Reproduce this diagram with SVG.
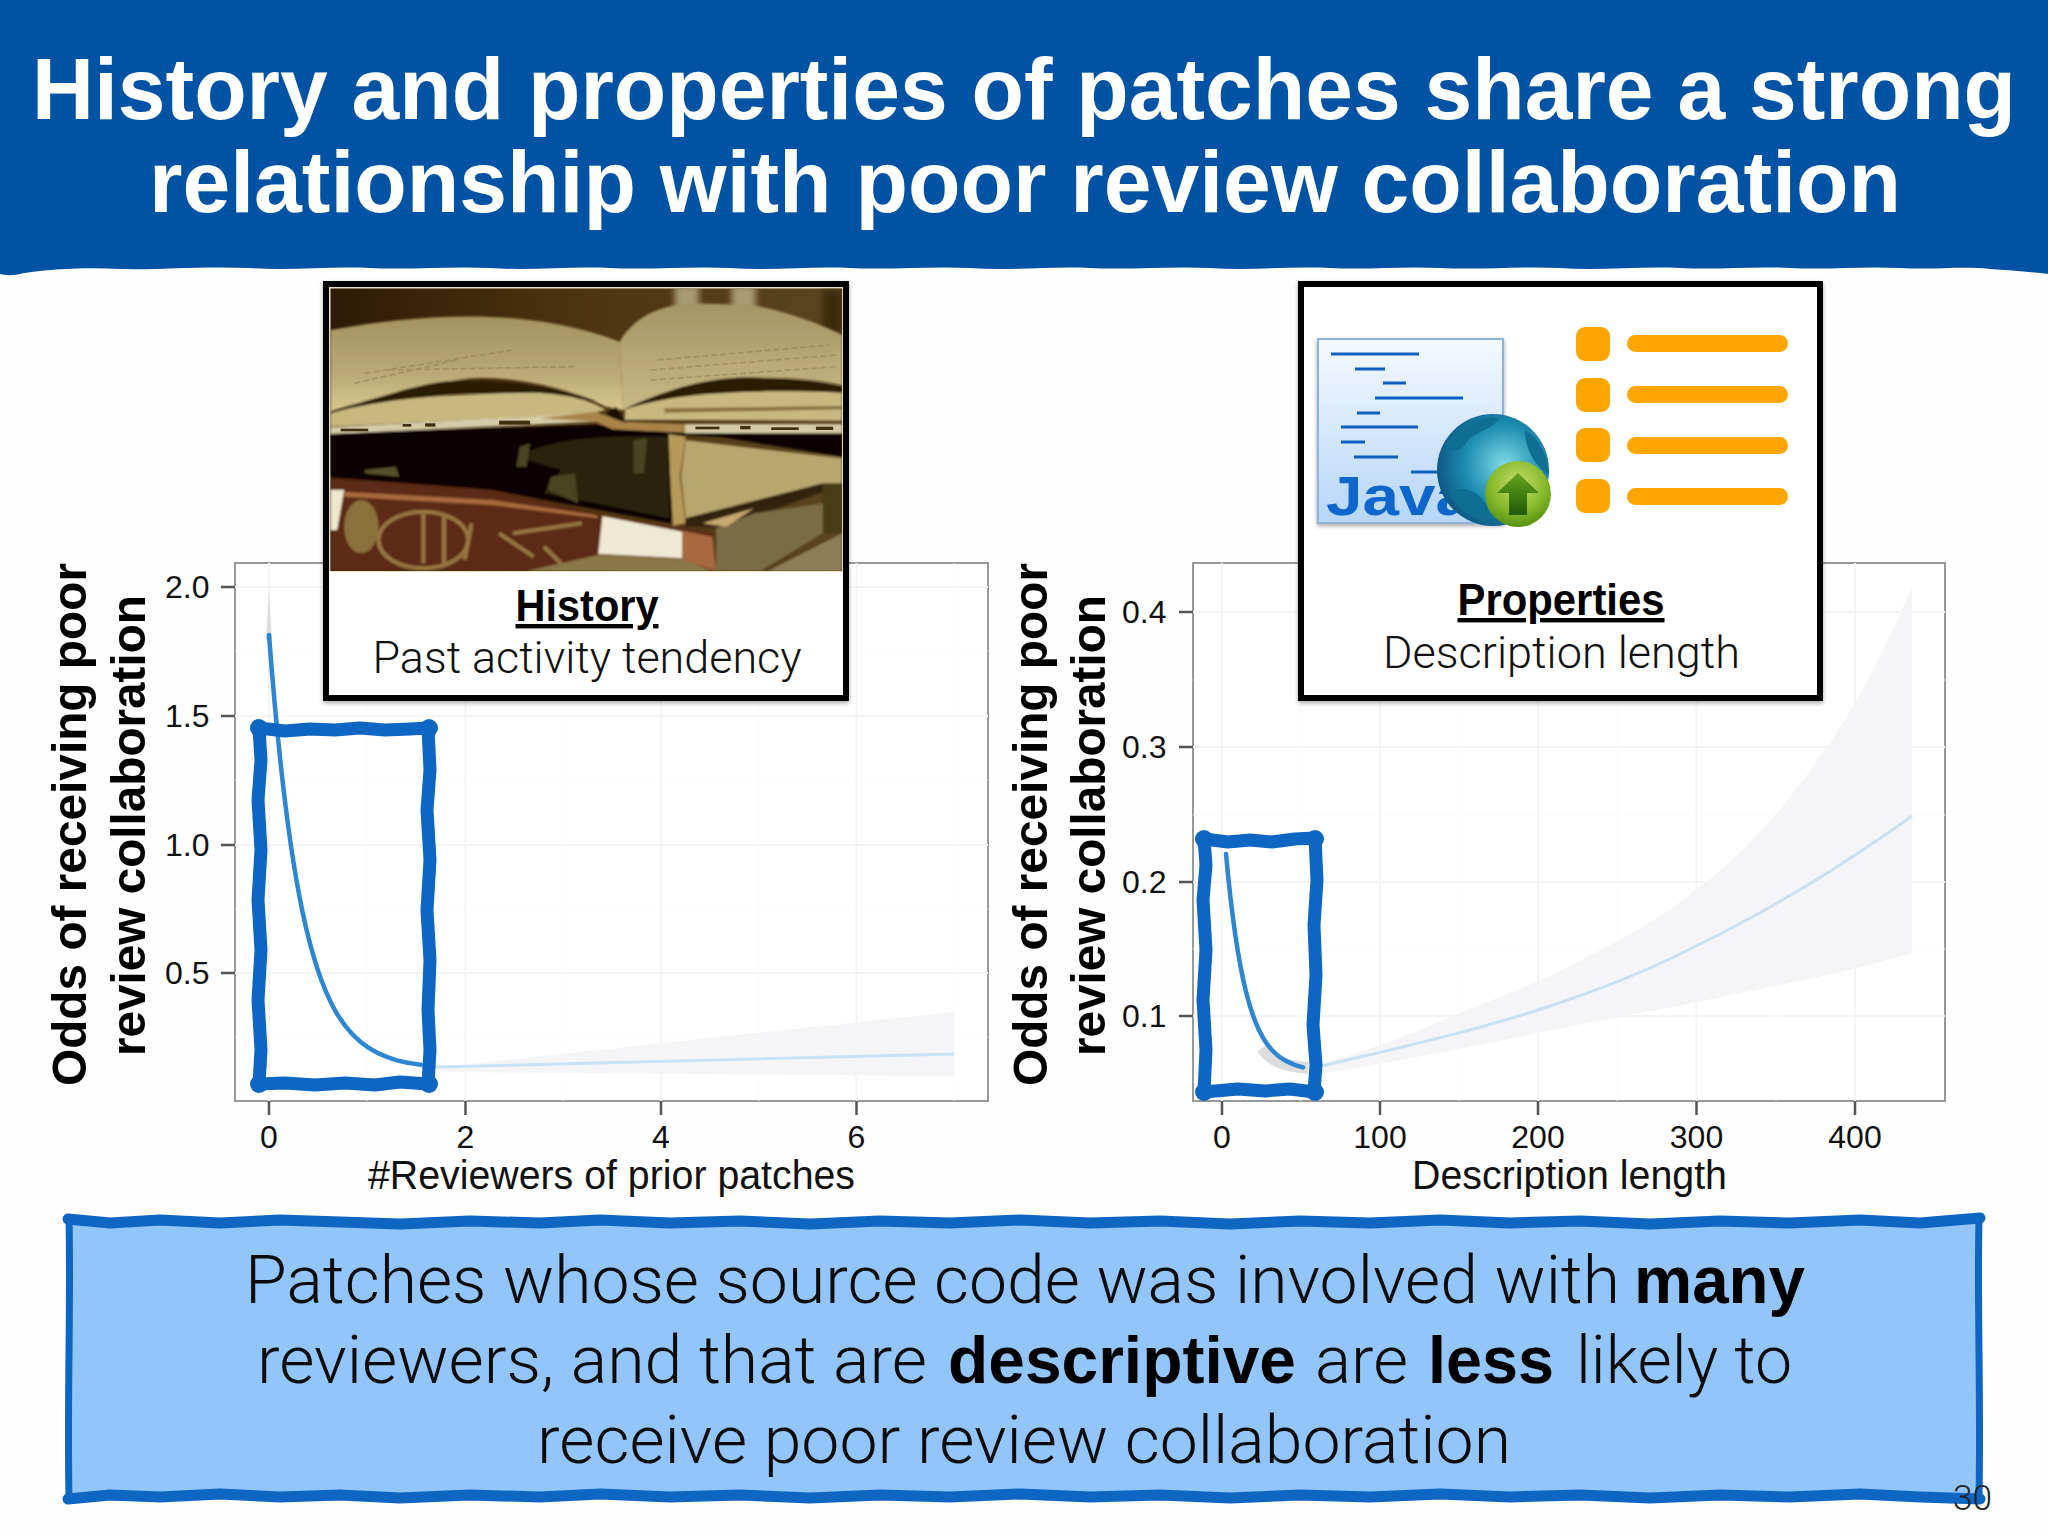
<svg xmlns="http://www.w3.org/2000/svg" width="2048" height="1536" viewBox="0 0 2048 1536">
<defs>
<style>
.sans{font-family:"Liberation Sans",Arial,sans-serif}
.light{font-family:Roboto,"Liberation Sans",sans-serif;font-weight:300}
.tick{font-family:"Liberation Sans",Arial,sans-serif;font-size:32px;fill:#111}
.axis{font-family:"Liberation Sans",Arial,sans-serif;font-size:40px;fill:#111}
.ylab{font-family:"Liberation Sans",Arial,sans-serif;font-size:49px;font-weight:700;fill:#000}
.panel{fill:#fff;stroke:#999;stroke-width:2}
.maj{stroke:#f4f4f4;stroke-width:2}
.min{stroke:#fbfbfb;stroke-width:1}
.tk{stroke:#555;stroke-width:2.5}
.band{fill:#f5f4f6}
.dark{fill:none;stroke:#2c86d2;stroke-width:4.500;stroke-linejoin:round;stroke-linecap:round}
.pale{fill:none;stroke:#c9e1f3;stroke-width:3}
.mark{fill:none;stroke:#0d66c2;stroke-width:13;stroke-linejoin:round;stroke-linecap:round}
.dot{fill:#0d66c2}
.frame{fill:#fff;stroke:#000;stroke-width:6;filter:url(#sh)}
.bul{fill:#ffa500}
.code{stroke:#0d5fc0;stroke-width:3}
.ftitle{font-family:"Liberation Sans",Arial,sans-serif;font-size:44px;font-weight:700;text-anchor:middle;text-decoration:underline;fill:#000}
.fsub{font-size:44px;text-anchor:middle;fill:#111}
.msg{font-size:67px;fill:#0b0b0b}
.msgb{font-family:"Liberation Sans",Arial,sans-serif;font-size:67px;font-weight:700;fill:#000}
.edge{fill:none;stroke:#0d66c2;stroke-width:11;stroke-linejoin:round;stroke-linecap:round}
</style>
<filter id="sh" x="-5%" y="-5%" width="110%" height="110%"><feDropShadow dx="0" dy="2" stdDeviation="2" flood-color="#000" flood-opacity=".35"/></filter>
<filter id="soft" x="-5%" y="-5%" width="110%" height="110%"><feGaussianBlur stdDeviation="3.500"/></filter>
<filter id="soft2" x="-20%" y="-20%" width="140%" height="140%"><feGaussianBlur stdDeviation="9"/></filter>
<clipPath id="photo"><rect x="30" y="55" width="1486" height="848"/></clipPath>
<linearGradient id="pgL" x1="0" y1="0" x2="0" y2="1"><stop offset="0" stop-color="#a3935f"/><stop offset=".6" stop-color="#b9a975"/><stop offset="1" stop-color="#d8c88f"/></linearGradient>
<linearGradient id="pgR" x1="0" y1="0" x2="0" y2="1"><stop offset="0" stop-color="#a59565"/><stop offset="1" stop-color="#c9b985"/></linearGradient>
<linearGradient id="bg" x1="0" y1="0" x2="1" y2="0"><stop offset="0" stop-color="#2e1a05"/><stop offset=".5" stop-color="#4e3410"/><stop offset="1" stop-color="#5a4420"/></linearGradient>
<linearGradient id="doc" x1="0" y1="0" x2="0" y2="1"><stop offset="0" stop-color="#f4f9ff"/><stop offset="1" stop-color="#b6d6f8"/></linearGradient>
<radialGradient id="globe" cx=".6" cy=".45" r=".65"><stop offset="0" stop-color="#7fd8e6"/><stop offset=".55" stop-color="#1c8cb0"/><stop offset="1" stop-color="#0a4f7c"/></radialGradient>
<radialGradient id="grn" cx=".5" cy=".35" r=".7"><stop offset="0" stop-color="#c8e070"/><stop offset=".6" stop-color="#86b82a"/><stop offset="1" stop-color="#4b8a0c"/></radialGradient>
<linearGradient id="arw" x1="0" y1="0" x2="0" y2="1"><stop offset="0" stop-color="#66a51e"/><stop offset="1" stop-color="#1f5a06"/></linearGradient>
</defs>
<rect width="2048" height="1536" fill="#fefefe"/>

<g id="header">
<path fill="#0053a4" d="M0 0H2048V274C2030 272 2010 270 1990 269 1960 266 1935 270 1900 268 1860 266 1830 270 1790 268 1750 266 1720 270 1680 268 1640 266 1600 271 1560 268 1520 266 1480 270 1440 268 1400 266 1370 270 1330 268 1290 266 1250 271 1210 268 1170 266 1130 270 1090 268 1050 266 1010 271 970 268 930 266 890 270 850 268 810 266 770 271 730 268 690 266 650 270 610 268 570 266 530 271 490 268 450 266 410 270 370 268 330 266 290 271 250 268 200 266 160 270 120 269 80 267 40 270 20 274 10 276 5 275 0 274Z"/>
<text class="sans" x="1024" y="119" font-size="87" font-weight="700" fill="#fff" text-anchor="middle" textLength="1984" lengthAdjust="spacingAndGlyphs">History and properties of patches share a strong</text>
<text class="sans" x="1025" y="212" font-size="87" font-weight="700" fill="#fff" text-anchor="middle" textLength="1752" lengthAdjust="spacingAndGlyphs">relationship with poor review collaboration</text>
</g>

<g id="plot-left">
<rect class="panel" x="235" y="563" width="753" height="538"/>
<path class="maj" d="M235 587H988M235 716H988M235 845H988M235 973H988M269 563V1101M465.500 563V1101M661 563V1101M856.500 563V1101"/>
<path class="min" d="M235 651H988M235 780H988M235 909H988M235 1037H988M367 563V1101M563 563V1101M759 563V1101M954 563V1101"/>
<path class="band" d="M440 1067L954 1012V1076L440 1072Z"/>
<path d="M266 640L269 591L272 640Z" fill="#ddd"/>
<path class="tk" d="M221 587H235M221 716H235M221 845H235M221 973H235M269 1101V1115M465.500 1101V1115M661 1101V1115M856.500 1101V1115"/>
<polyline class="pale" points="421,1067 440,1067 954,1054"/>
<path class="dark" d="M269 635C280 779.700 291 856.200 302 909.400 313 962.600 324 990.700 335 1010.300 346 1029.900 357 1040.200 368 1047.400 385.700 1059 403.300 1062.400 421 1064.700"/>
<g class="tick"><text x="165" y="598">2.0</text><text x="165" y="727">1.5</text><text x="165" y="856">1.0</text><text x="165" y="984">0.5</text></g>
<g class="tick" text-anchor="middle"><text x="269" y="1148">0</text><text x="465.500" y="1148">2</text><text x="661" y="1148">4</text><text x="856.500" y="1148">6</text></g>
<text class="axis" x="368" y="1189" textLength="487" lengthAdjust="spacingAndGlyphs">#Reviewers of prior patches</text>
<text class="ylab" transform="translate(86 1086) rotate(-90)" textLength="523" lengthAdjust="spacingAndGlyphs">Odds of receiving poor</text>
<text class="ylab" transform="translate(145 1056) rotate(-90)" textLength="461" lengthAdjust="spacingAndGlyphs">review collaboration</text>
</g>

<g id="mark-left">
<polyline class="mark" points="259,728 285,731 310,729 335,730 360,728 385,730 410,729 428,728 430,770 427,810 430,860 427,910 430,960 428,1010 430,1050 428,1084 400,1082 375,1085 345,1083 315,1085 285,1083 259,1084 261,1050 258,1000 261,950 258,900 261,850 258,800 261,760 259,728"/>
<circle class="dot" cx="259" cy="728" r="9"/><circle class="dot" cx="429" cy="728" r="9"/><circle class="dot" cx="259" cy="1084" r="9"/><circle class="dot" cx="429" cy="1084" r="9"/>
</g>

<g id="plot-right">
<rect class="panel" x="1193" y="563" width="752" height="538"/>
<path class="maj" d="M1193 612H1945M1193 747H1945M1193 882H1945M1193 1016H1945M1222 563V1101M1380 563V1101M1538 563V1101M1696.500 563V1101M1855 563V1101"/>
<path class="min" d="M1193 680H1945M1193 815H1945M1193 949H1945M1301 563V1101M1459 563V1101M1617 563V1101M1776 563V1101"/>
<path class="band" d="M1319 1065C1360 1052 1400 1040 1446 1019 1490 1000 1535 985 1574 964 1620 940 1660 920 1702 885 1750 850 1790 800 1829 744 1860 700 1890 640 1912 586V953C1850 972 1780 985 1702 1001 1650 1012 1600 1020 1542 1032 1470 1048 1390 1062 1319 1074Z"/>
<path d="M1262 1048C1272 1062 1285 1066 1308 1068" fill="none" stroke="#dddddd" stroke-width="12"/>
<path class="tk" d="M1179 612H1193M1179 747H1193M1179 882H1193M1179 1016H1193M1222 1101V1115M1380 1101V1115M1538 1101V1115M1696.500 1101V1115M1855 1101V1115"/>
<path class="pale" d="M1310 1069C1380 1052 1460 1035 1538 1010 1600 990 1650 970 1696 946 1750 920 1800 890 1829 872 1860 852 1890 832 1912 816"/>
<path class="dark" d="M1226 854C1232.700 927 1239.300 965 1246 991.800 1252.700 1018.500 1259.300 1032.700 1266 1042.500 1272.700 1052.300 1279.300 1057.400 1286 1061 1291.700 1064 1297.300 1066 1303 1067.400"/>
<g class="tick"><text x="1122" y="623">0.4</text><text x="1122" y="758">0.3</text><text x="1122" y="893">0.2</text><text x="1122" y="1027">0.1</text></g>
<g class="tick" text-anchor="middle"><text x="1222" y="1148">0</text><text x="1380" y="1148">100</text><text x="1538" y="1148">200</text><text x="1696.500" y="1148">300</text><text x="1855" y="1148">400</text></g>
<text class="axis" x="1412" y="1189" textLength="315" lengthAdjust="spacingAndGlyphs">Description length</text>
<text class="ylab" transform="translate(1047 1086) rotate(-90)" textLength="523" lengthAdjust="spacingAndGlyphs">Odds of receiving poor</text>
<text class="ylab" transform="translate(1105 1056) rotate(-90)" textLength="461" lengthAdjust="spacingAndGlyphs">review collaboration</text>
</g>

<g id="mark-right">
<polyline class="mark" points="1204,839 1228,842 1250,840 1272,842 1295,839 1315,838 1317,880 1314,925 1316,975 1313,1025 1316,1065 1314,1092 1290,1089 1265,1091 1238,1089 1204,1092 1206,1050 1203,1000 1206,950 1203,900 1206,865 1204,839"/>
<circle class="dot" cx="1204" cy="839" r="9"/><circle class="dot" cx="1315" cy="839" r="9"/><circle class="dot" cx="1204" cy="1092" r="9"/><circle class="dot" cx="1315" cy="1092" r="9"/>
</g>

<g id="history-card">
<rect class="frame" x="326" y="284" width="520" height="414"/>
<rect x="329" y="287" width="514" height="285" fill="#e8e0c0"/>
<g transform="translate(320 270) scale(.3444 .3333)" clip-path="url(#photo)">
<rect x="30" y="55" width="1486" height="848" fill="url(#bg)"/>
<g filter="url(#soft2)">
<rect x="1030" y="45" width="70" height="80" fill="#a89a72"/><rect x="1195" y="45" width="70" height="80" fill="#a89a72"/>
<rect x="1460" y="60" width="60" height="130" fill="#3c2c10"/>
</g>
<g filter="url(#soft)">
<path fill="url(#pgL)" d="M30 180C300 130 600 110 870 215L880 420 830 410C700 340 500 310 400 330 250 360 100 400 30 425Z"/>
<path fill="url(#pgR)" d="M870 215C920 130 1000 105 1080 100L1250 105C1350 120 1470 170 1516 195V345C1400 320 1230 310 1100 350 1000 380 930 405 880 420Z"/>
<path fill="#2a1a06" d="M30 428C200 370 340 325 420 332 600 335 720 360 800 392L400 368Z"/>
<path fill="#c8b880" d="M30 430C200 380 400 372 620 368 720 372 790 392 830 420L780 432 30 470Z"/>
<path fill="#2a1a06" d="M885 415C1000 365 1100 325 1240 322 1360 325 1450 335 1516 350V370L1100 372Z"/>
<path fill="#c8b880" d="M885 420C1000 375 1200 355 1516 368V452L1050 450 885 450Z"/>
<path fill="#8a7040" d="M1000 415L1516 408V418L1000 428Z"/>
<path fill="#080502" d="M30 490L800 465 1516 490V560L1160 500 1060 495 1020 760 500 660 30 620Z"/>
<path fill="#d4cba8" d="M30 472L780 430 800 455 30 492Z"/>
<path fill="#d4cba8" d="M1060 462H1516V490H1060Z"/>
<path fill="#a8844a" d="M640 445L800 425 880 455 1060 462 1060 488 850 478 800 455Z"/>
<path fill="#1a1006" d="M830 430L860 410 890 458 850 445Z"/>
<path fill="#2a230c" d="M570 560C700 490 900 500 1010 500L1015 745 800 700 650 670 700 600Z"/>
<path fill="#4a4424" d="M580 530L610 520 600 590 570 590ZM670 620L740 610 750 700 660 660ZM910 510L950 505 940 610 910 610Z"/>
<path fill="#57502c" d="M130 600L220 590 230 620 130 610Z"/>
<path fill="#b59a5a" d="M1012 492L1062 500 1045 620 1062 760 1025 768 1018 650Z"/>
<path fill="#b7a66e" d="M1062 510L1516 565V640L1270 690 1062 745 1048 620Z"/>
<path fill="#30220a" d="M1062 745L1270 690 1460 640V665L1180 770 1060 770Z"/>
<path fill="#4a3a14" d="M1460 640H1516V790L1460 790Z"/>
<path fill="#5c2a12" d="M30 625L500 660 820 735 1140 790 1150 903H30Z"/>
<path fill="#a86a3c" d="M70 665L500 690 800 735 810 745 500 705 70 680Z"/>
<path fill="#efe8d0" d="M30 660H70L50 780H30Z"/>
<path fill="#efe8d2" d="M820 738L1052 785V865L808 852Z"/>
<path fill="#a86840" d="M1052 782L1140 800 1150 903 1052 870Z"/>
<path fill="#8a7848" d="M808 855L1052 868 1140 903H600Z"/>
<path fill="#7a6c44" d="M1150 775L1260 730 1460 700V790L1280 903H1150Z"/>
<path fill="#8e7e58" d="M1300 903L1516 790V903Z"/>
<path fill="#c8a870" d="M1110 760L1260 715 1180 770Z"/>
<ellipse cx="120" cy="770" rx="50" ry="80" fill="#8a6f3a"/>
<g fill="none" stroke="#a58a50" stroke-width="12" opacity=".8"><ellipse cx="300" cy="810" rx="130" ry="85"/><path d="M300 730V880M360 740V880M440 760L420 870M560 790L760 760M650 830L700 880M520 790L620 860"/></g>
</g>
<g stroke="#8a7a4c" stroke-width="5" opacity=".45" stroke-dasharray="18 8"><path d="M100 340L400 270M130 310L560 240M200 300L740 290M960 330L1500 290M960 300L1500 255M980 270L1480 225"/></g>
<g fill="#40300f"><rect x="240" y="462" width="25" height="8"/><rect x="305" y="460" width="30" height="10"/><rect x="520" y="452" width="90" height="12"/><rect x="1090" y="470" width="70" height="8"/><rect x="1220" y="468" width="30" height="10"/><rect x="1310" y="472" width="80" height="8"/><rect x="1440" y="470" width="50" height="10"/><rect x="60" y="476" width="80" height="8"/></g>
</g>
<text class="ftitle" x="587" y="621" textLength="143" lengthAdjust="spacingAndGlyphs">History</text>
<text class="light fsub" x="587" y="673" textLength="429" lengthAdjust="spacingAndGlyphs">Past activity tendency</text>
</g>

<g id="properties-card">
<rect class="frame" x="1301" y="284" width="519" height="414"/>
<g id="java-icon">
<rect x="1318" y="339" width="185" height="184" fill="url(#doc)" stroke="#8fb2d8" stroke-width="2" filter="url(#sh)"/>
<path class="code" d="M1331 354H1419M1355 369H1385M1383 383H1406M1375 398H1463M1357 413H1380M1341 427H1418M1341 442H1365M1354 457H1398M1411 472H1441"/>
<text x="1326" y="515" font-family="'Liberation Sans',sans-serif" font-size="56" font-weight="700" fill="#0d66cc" textLength="146" lengthAdjust="spacingAndGlyphs">Java</text>
<circle cx="1493" cy="470" r="56" fill="url(#globe)"/>
<path fill="#0f6f92" d="M1445 445C1460 425 1485 415 1500 418 1490 432 1470 432 1465 445 1455 455 1450 450 1445 445ZM1525 430C1540 440 1548 455 1549 475 1535 465 1525 450 1525 430ZM1450 490C1470 485 1485 495 1490 515 1475 522 1455 510 1450 490Z"/>
<circle cx="1518" cy="494" r="33" fill="url(#grn)"/>
<path fill="url(#arw)" d="M1518 473L1539 493H1527V515H1509V493H1497Z"/>
</g>
<g id="bullets">
<rect class="bul" x="1576" y="327" width="34" height="34" rx="9"/><rect class="bul" x="1576" y="378" width="34" height="34" rx="9"/><rect class="bul" x="1576" y="428" width="34" height="34" rx="9"/><rect class="bul" x="1576" y="479" width="34" height="34" rx="9"/>
<rect class="bul" x="1627" y="335" width="161" height="17" rx="8.500"/><rect class="bul" x="1627" y="386" width="161" height="17" rx="8.500"/><rect class="bul" x="1627" y="437" width="161" height="17" rx="8.500"/><rect class="bul" x="1627" y="488" width="161" height="17" rx="8.500"/>
</g>
<text class="ftitle" x="1561" y="615" textLength="207" lengthAdjust="spacingAndGlyphs">Properties</text>
<text class="light fsub" x="1561.500" y="668" textLength="357" lengthAdjust="spacingAndGlyphs">Description length</text>
</g>

<g id="summary">
<rect x="68" y="1222" width="1912" height="274" rx="6" fill="#92c5fa"/>
<path fill="none" stroke="#0d66c2" stroke-width="7" d="M69 1220C71 1300 67 1400 69 1498M1979 1220C1977 1300 1981 1400 1979 1498"/>
<polyline class="edge" points="68,1219 110,1223 160,1220 220,1223 280,1220 340,1222 400,1224 470,1221 540,1223 600,1220 670,1223 740,1221 810,1224 880,1221 950,1223 1020,1220 1090,1223 1160,1221 1230,1224 1300,1221 1370,1223 1440,1220 1510,1223 1580,1221 1650,1224 1720,1221 1790,1223 1860,1220 1920,1223 1980,1218"/>
<polyline class="edge" points="68,1499 110,1495 160,1497 220,1494 280,1497 340,1495 400,1498 470,1495 540,1497 600,1494 670,1497 740,1495 810,1498 880,1495 950,1497 1020,1494 1090,1497 1160,1495 1230,1498 1300,1495 1370,1497 1440,1494 1510,1497 1580,1495 1650,1498 1720,1495 1790,1497 1860,1494 1920,1497 1980,1499"/>
<text y="1303"><tspan class="light msg" x="245" textLength="1375" lengthAdjust="spacingAndGlyphs">Patches whose source code was involved with</tspan><tspan class="msgb" x="1634" textLength="171" lengthAdjust="spacingAndGlyphs">many</tspan></text>
<text y="1383"><tspan class="light msg" x="257" textLength="670" lengthAdjust="spacingAndGlyphs">reviewers, and that are</tspan><tspan class="msgb" x="948" textLength="348" lengthAdjust="spacingAndGlyphs">descriptive</tspan><tspan class="light msg" x="1315" textLength="93" lengthAdjust="spacingAndGlyphs">are</tspan><tspan class="msgb" x="1428" textLength="126" lengthAdjust="spacingAndGlyphs">less</tspan><tspan class="light msg" x="1576" textLength="216" lengthAdjust="spacingAndGlyphs">likely to</tspan></text>
<text y="1463"><tspan class="light msg" x="537" textLength="974" lengthAdjust="spacingAndGlyphs">receive poor review collaboration</tspan></text>
</g>
<text id="page-number" class="light" x="1953" y="1510" font-size="35" fill="#222" textLength="39" lengthAdjust="spacingAndGlyphs">30</text>
</svg>
